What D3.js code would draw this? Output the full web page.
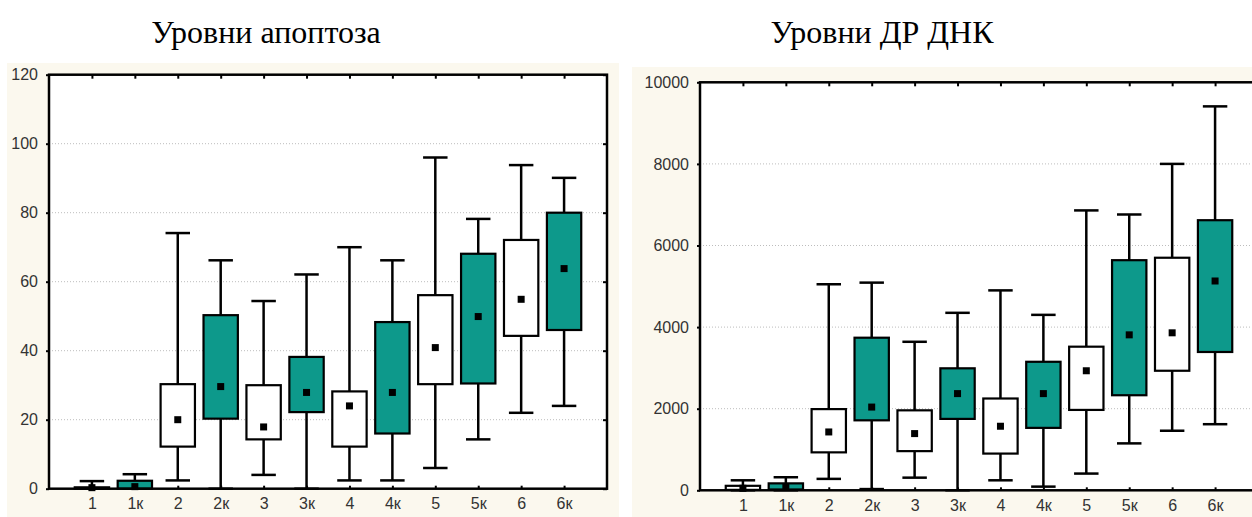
<!DOCTYPE html>
<html>
<head>
<meta charset="utf-8">
<script src="https://cdn.jsdelivr.net/npm/d3@7"></script>
<style>
  body { margin: 0; background: #fff; }
  svg { display: block; }
  .tick text { font-family: "Liberation Sans", Arial, sans-serif; font-size: 16px; fill: #333; }
  .title { font-family: "Liberation Serif", "Times New Roman", serif; font-size: 32px; fill: #000; }
</style>
</head>
<body>
<svg id="chart" width="1252" height="517"></svg>
<script>
// categories ("к" = control groups, drawn teal)
const categories = ['1', '1к', '2', '2к', '3', '3к', '4', '4к', '5', '5к', '6', '6к'];
const isControl = [false, true, false, true, false, true, false, true, false, true, false, true];

// apoptosis levels
const apoMin = [0, 0, 2.4, 0, 4, 0, 2.4, 2.4, 6, 14.3, 22, 24];
const apoQ1 = [0, 0, 12.2, 20.3, 14.3, 22.2, 12.2, 16, 30.3, 30.5, 44.3, 46];
const apoMed = [0.3, 0.6, 20, 29.6, 17.9, 27.9, 24, 27.9, 40.9, 49.9, 54.9, 63.8];
const apoQ3 = [0.4, 2.3, 30.3, 50.3, 30, 38.2, 28.2, 48.3, 56.1, 68.1, 72.1, 80];
const apoMax = [2.2, 4.2, 74.1, 66.2, 54.4, 62.1, 70, 66.2, 96, 78.2, 93.8, 90.1];
const apoTicks = [0, 20, 40, 60, 80, 100, 120];

// DNA damage levels
const dnaMin = [0, 0, 280, 30, 310, 0, 245, 90, 410, 1150, 1460, 1620];
const dnaQ1 = [10, 20, 930, 1715, 960, 1750, 900, 1530, 1970, 2330, 2930, 3390];
const dnaMed = [50, 90, 1430, 2040, 1390, 2370, 1570, 2370, 2930, 3810, 3860, 5130];
const dnaQ3 = [110, 170, 1990, 3740, 1960, 2990, 2250, 3150, 3520, 5640, 5700, 6620];
const dnaMax = [245, 320, 5050, 5090, 3640, 4350, 4900, 4300, 6860, 6760, 8000, 9410];
const dnaTicks = [0, 2000, 4000, 6000, 8000, 10000];

const svg = d3.select('#chart');
const teal = '#0d998b';

function panel(opt) {
    const { left, right, top, bottom, maxY, ticks, mins, q1s, meds, q3s, maxs, title, titleX, bg } = opt;

    svg.append('rect')
        .attr('x', bg[0]).attr('y', bg[1])
        .attr('width', bg[2] - bg[0]).attr('height', bg[3] - bg[1])
        .attr('fill', '#fbf8ee');

    svg.append('text')
        .attr('class', 'title')
        .attr('x', titleX).attr('y', 43)
        .attr('text-anchor', 'middle')
        .text(title);

    const x = d3.scalePoint().domain(categories).range([left, right]).padding(1);
    const y = d3.scaleLinear().domain([0, maxY]).range([bottom, top]);
    const step = x.step();
    const boxW = step * 0.8;
    const capW = step * 0.57;

    const g = svg.append('g');

    g.append('rect')
        .attr('x', left).attr('y', top)
        .attr('width', right - left).attr('height', bottom - top)
        .attr('fill', '#fff');

    // dotted grid
    g.selectAll('.grid')
        .data(ticks.filter(t => t > 0 && t < maxY))
        .enter().append('line')
        .attr('x1', left).attr('x2', right)
        .attr('y1', d => y(d)).attr('y2', d => y(d))
        .attr('stroke', '#bdbdbd')
        .attr('stroke-dasharray', '1,2');

    const rows = categories.map((c, i) => ({
        c, ctrl: isControl[i], min: mins[i], q1: q1s[i], med: meds[i], q3: q3s[i], max: maxs[i]
    }));

    const box = g.selectAll('.box').data(rows).enter().append('g');

    box.append('line')
        .attr('x1', d => x(d.c)).attr('x2', d => x(d.c))
        .attr('y1', d => y(d.min)).attr('y2', d => y(d.max))
        .attr('stroke', '#000').attr('stroke-width', 2.5);

    box.selectAll('.cap')
        .data(d => [d.min, d.max].map(v => ({ c: d.c, v })))
        .enter().append('line')
        .attr('x1', d => x(d.c) - capW / 2).attr('x2', d => x(d.c) + capW / 2)
        .attr('y1', d => y(d.v)).attr('y2', d => y(d.v))
        .attr('stroke', '#000').attr('stroke-width', 2.5);

    box.append('rect')
        .attr('x', d => x(d.c) - boxW / 2)
        .attr('y', d => y(d.q3))
        .attr('width', boxW)
        .attr('height', d => y(d.q1) - y(d.q3))
        .attr('fill', d => d.ctrl ? teal : '#fff')
        .attr('stroke', '#000').attr('stroke-width', 2.2);

    box.append('rect')
        .attr('x', d => x(d.c) - 3.5)
        .attr('y', d => y(d.med) - 3.5)
        .attr('width', 7).attr('height', 7)
        .attr('fill', '#000');

    // axes
    const ax = svg.append('g');
    ax.append('g')
        .attr('transform', `translate(${left},0)`)
        .call(d3.axisLeft(y).tickValues(ticks).tickFormat(d3.format('d')).tickSize(3).tickPadding(8))
        .call(a => a.select('.domain').remove());
    ax.append('g')
        .attr('transform', `translate(0,${bottom})`)
        .call(d3.axisBottom(x).tickSize(-3).tickPadding(9))
        .call(a => a.select('.domain').remove());
    ax.append('g')
        .attr('transform', `translate(0,${top})`)
        .call(d3.axisTop(x).tickSize(-4).tickFormat(''))
        .call(a => a.select('.domain').remove());
    ax.append('g')
        .attr('transform', `translate(${right},0)`)
        .call(d3.axisRight(y).tickValues(ticks).tickSize(-4).tickFormat(''))
        .call(a => a.select('.domain').remove());
    ax.selectAll('.tick line').attr('stroke', '#000').attr('stroke-width', 2);

    ax.append('rect')
        .attr('x', left).attr('y', top)
        .attr('width', right - left).attr('height', bottom - top)
        .attr('fill', 'none')
        .attr('stroke', '#000').attr('stroke-width', 2.5);
}

panel({
    left: 49, right: 607, top: 74.7, bottom: 488.7, maxY: 120, ticks: apoTicks,
    mins: apoMin, q1s: apoQ1, meds: apoMed, q3s: apoQ3, maxs: apoMax,
    title: 'Уровни апоптоза', titleX: 266, bg: [7, 63, 619, 517]
});

panel({
    left: 700, right: 1258, top: 82.3, bottom: 490.3, maxY: 10000, ticks: dnaTicks,
    mins: dnaMin, q1s: dnaQ1, meds: dnaMed, q3s: dnaQ3, maxs: dnaMax,
    title: 'Уровни ДР ДНК', titleX: 882, bg: [632, 67, 1252, 517]
});
</script>
</body>
</html>
